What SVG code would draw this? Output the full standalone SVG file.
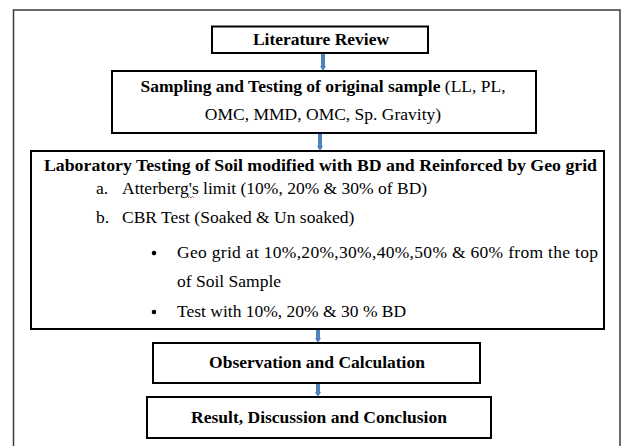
<svg xmlns="http://www.w3.org/2000/svg" width="621" height="446" viewBox="0 0 621 446">
<defs>
<style>
.frame{fill:none;stroke:#3a3a3a;stroke-width:1.5}
.box{fill:#fff;stroke:#000;stroke-width:2}
.t{font-family:"Liberation Serif","Times New Roman",serif;font-size:17.5px;fill:#000}
.b{font-weight:bold}
.c{text-anchor:middle}
.conn{stroke:#4f81bd;stroke-width:4;fill:none}
.head{fill:#4f81bd}
</style>
</defs>
<rect width="621" height="446" fill="#fff"/>
<path class="frame" d="M13.5,447 V10 H620 V447"/>

<g id="connectors">
<line class="conn" x1="323" y1="53" x2="323" y2="68"/>
<path class="head" d="M320,66 L326,66 L323,71 Z"/>
<line class="conn" x1="320" y1="133" x2="320" y2="148"/>
<path class="head" d="M317,146 L323,146 L320,151 Z"/>
<line class="conn" x1="318" y1="329" x2="318" y2="340"/>
<path class="head" d="M315,338 L321,338 L318,343 Z"/>
<line class="conn" x1="318" y1="383" x2="318" y2="394"/>
<path class="head" d="M315,392 L321,392 L318,397 Z"/>
</g>

<g id="literature">
<rect class="box" x="212" y="26.5" width="216" height="26.5"/>
<text class="t b c" x="321" y="45">Literature Review</text>
</g>

<g id="sampling">
<rect class="box" x="112" y="71" width="424" height="62"/>
<text class="t c" x="323" y="92"><tspan class="b">Sampling and Testing of original sample</tspan> (LL, PL,</text>
<text class="t c" x="323" y="120">OMC, MMD, OMC, Sp. Gravity)</text>
</g>

<g id="laboratory">
<rect class="box" x="31" y="151" width="573" height="178"/>
<text class="t b" x="44" y="171" textLength="553" lengthAdjust="spacingAndGlyphs">Laboratory Testing of Soil modified with BD and Reinforced by Geo grid</text>
<text class="t" x="96" y="194">a.</text>
<text class="t" x="122" y="194">Atterberg's limit (10%, 20% &amp; 30% of BD)</text>
<path d="M188,198 l1.5,-1.5 l1.5,1.5 l1.5,-1.5 l1.5,1.5" fill="none" stroke="#c0392b" stroke-width="0.8"/>
<text class="t" x="96" y="223">b.</text>
<text class="t" x="122" y="223">CBR Test (Soaked &amp; Un soaked)</text>
<circle cx="154" cy="253" r="2.3" fill="#000"/>
<text class="t" x="177" y="258" textLength="421" lengthAdjust="spacing">Geo grid at 10%,20%,30%,40%,50% &amp; 60% from the top</text>
<text class="t" x="177" y="287">of Soil Sample</text>
<circle cx="154" cy="312" r="2.3" fill="#000"/>
<text class="t" x="177" y="317">Test with 10%, 20% &amp; 30 % BD</text>
</g>

<g id="observation">
<rect class="box" x="153" y="343" width="327" height="40"/>
<text class="t b c" x="317" y="368">Observation and Calculation</text>
</g>

<g id="result">
<rect class="box" x="147" y="397" width="344" height="41"/>
<text class="t b c" x="319" y="423">Result, Discussion and Conclusion</text>
</g>
</svg>
